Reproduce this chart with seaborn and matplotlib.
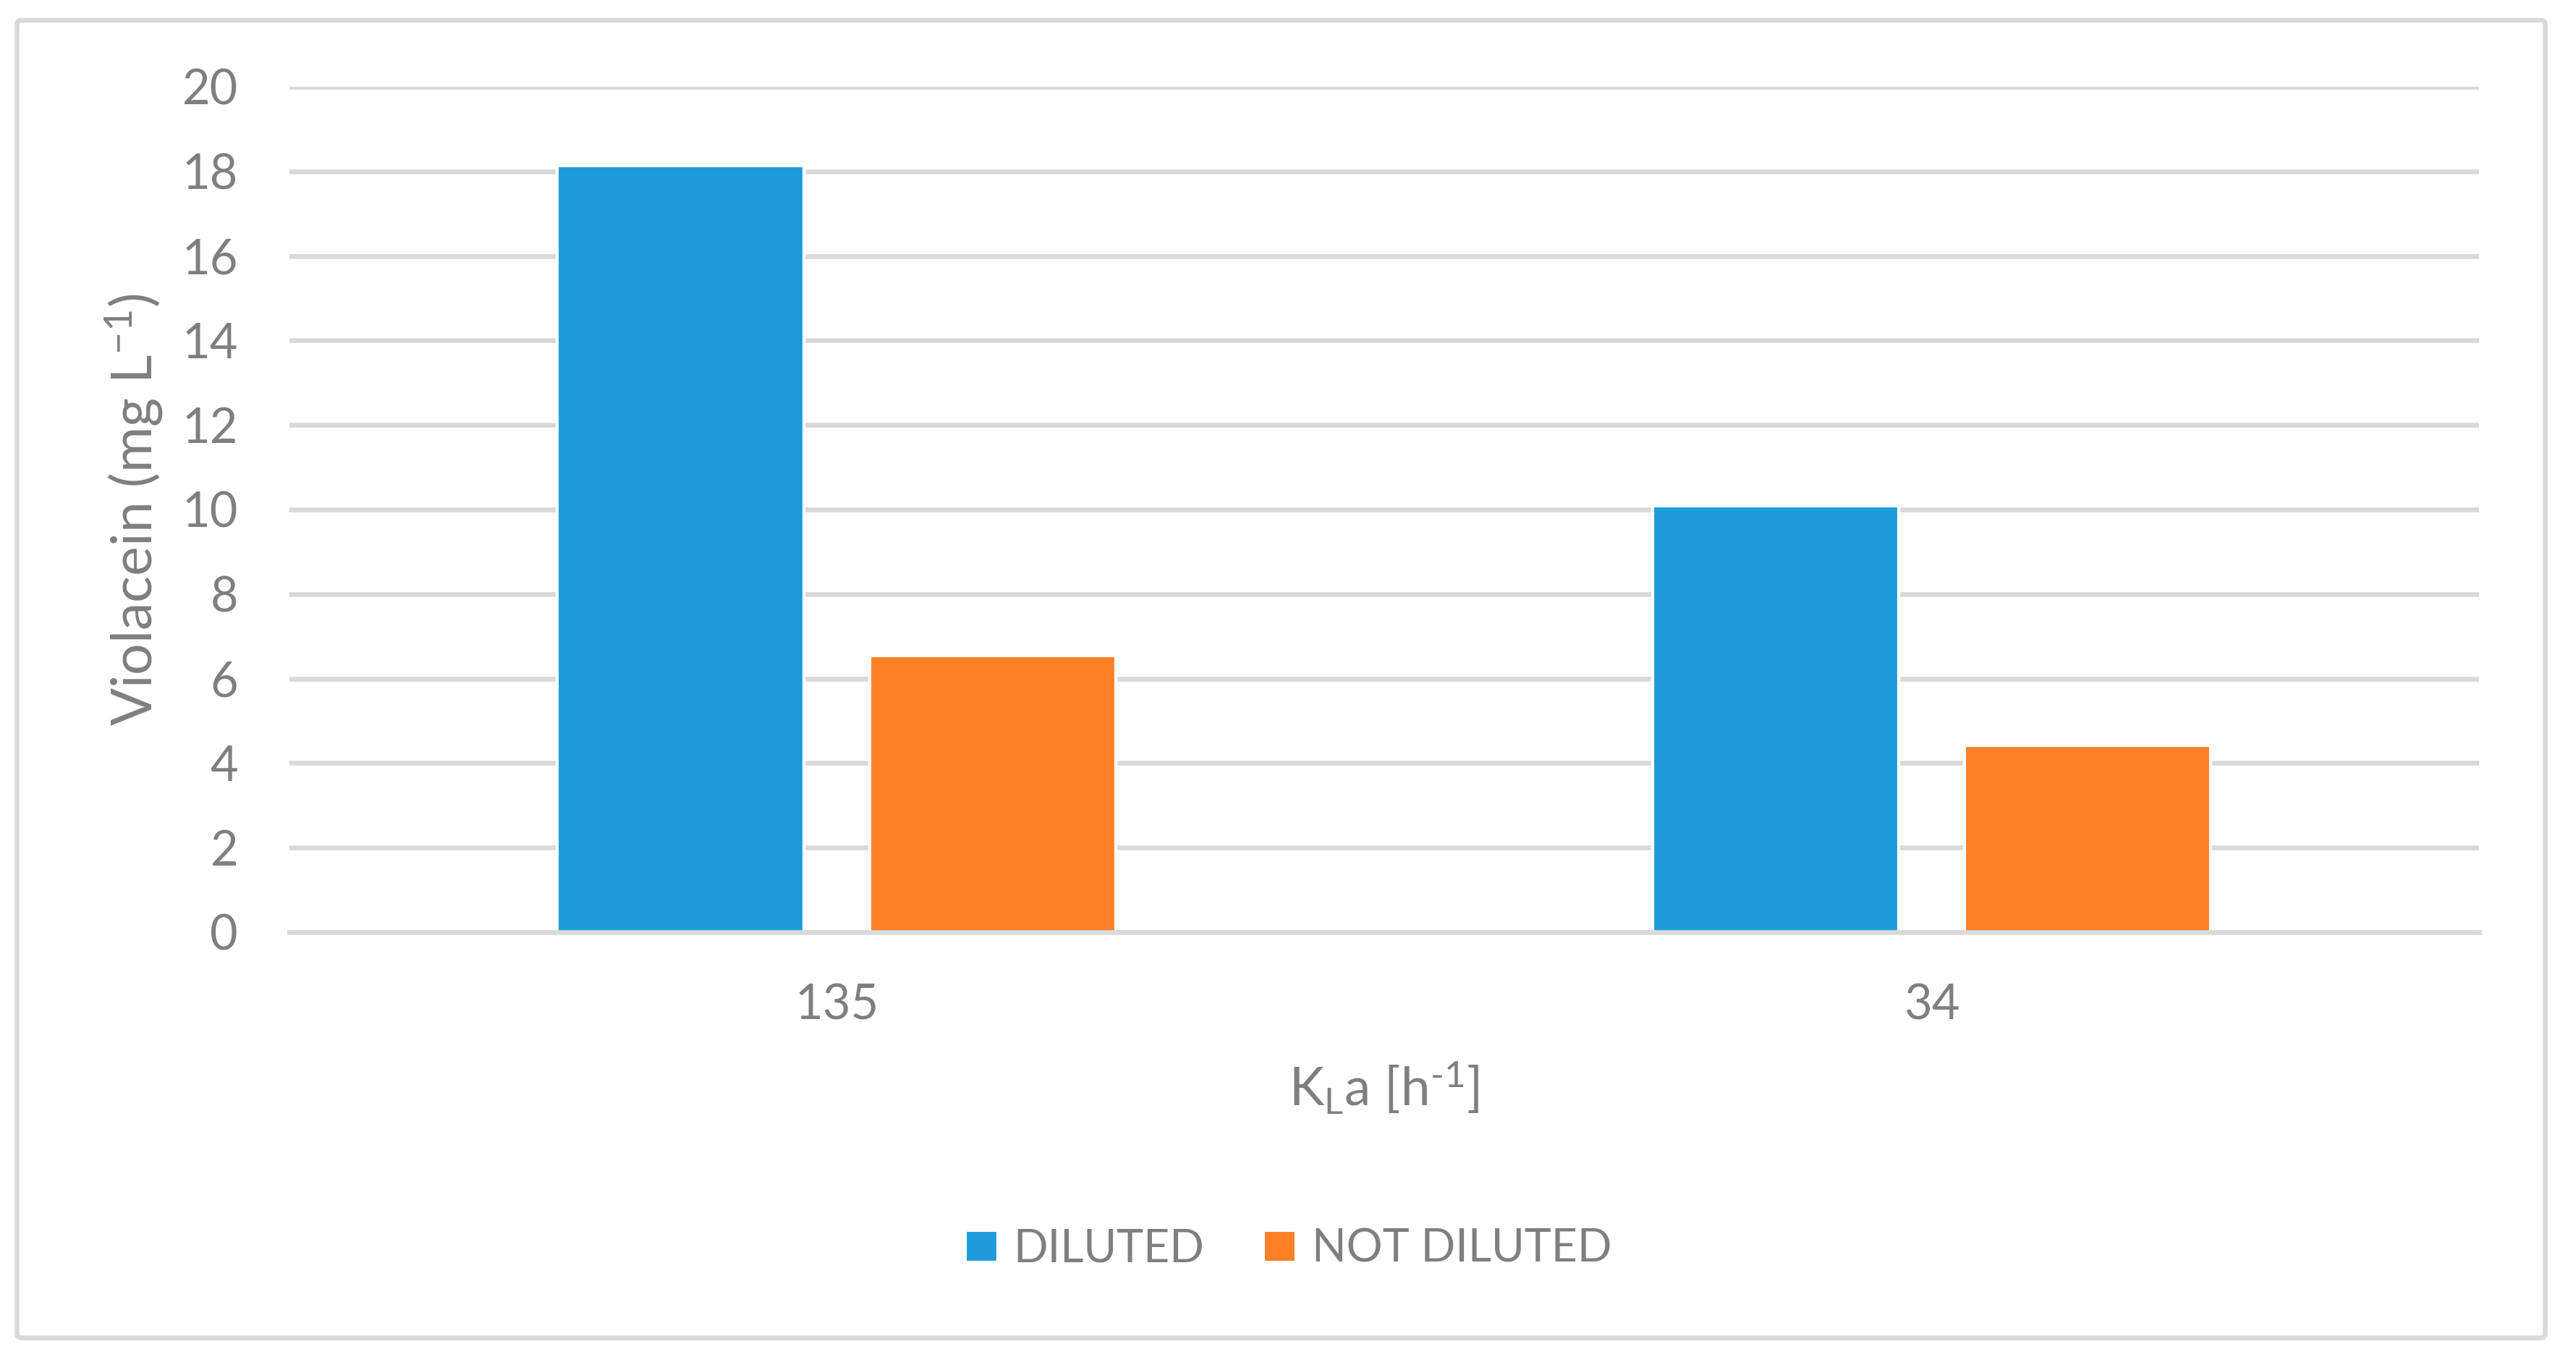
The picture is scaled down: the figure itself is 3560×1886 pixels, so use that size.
import matplotlib
matplotlib.use("Agg")
import matplotlib.pyplot as plt
import matplotlib.patches as mpatches
import pandas as pd
import seaborn as sns

# Data
kla_values = ["135", "34"]
conditions = ["DILUTED", "NOT DILUTED"]
diluted = [18.13, 10.09]
not_diluted = [6.54, 4.42]
bar_colors = ["#1D9CD9", "#FF7F27"]

df = pd.DataFrame({
    "KLa": kla_values * 2,
    "condition": [conditions[0]] * 2 + [conditions[1]] * 2,
    "violacein": diluted + not_diluted,
})

sns.set_style("white")
plt.rcParams["font.family"] = ["Lato", "DejaVu Sans"]
plt.rcParams["mathtext.fontset"] = "custom"
plt.rcParams["mathtext.rm"] = "Lato"
plt.rcParams["mathtext.it"] = "Lato:italic"
plt.rcParams["mathtext.default"] = "regular"

text_gray = "#7f7f7f"
line_gray = "#d9d9d9"

fig = plt.figure(figsize=(3561 / 300, 1886 / 300), dpi=300)
ax = fig.add_axes([0.1123, 0.3171, 0.8498, 0.6193])

sns.barplot(data=df, x="KLa", y="violacein", hue="condition",
            palette=bar_colors, width=0.57, gap=0.21, saturation=1,
            ax=ax)

ax.set_ylim(0, 20)
ax.set_xlim(-0.5, 1.5)
ax.set_yticks(range(0, 21, 2))
ax.set_axisbelow(True)
ax.yaxis.grid(True, color=line_gray, linewidth=1.6)
ax.xaxis.grid(False)
for side in ["top", "right", "left"]:
    ax.spines[side].set_visible(False)
ax.spines["bottom"].set_color(line_gray)
ax.spines["bottom"].set_linewidth(1.6)

ax.tick_params(axis="both", length=0, labelsize=16, labelcolor=text_gray)
ax.tick_params(axis="y", pad=17)
ax.tick_params(axis="x", pad=17)

ax.set_ylabel("Violacein (mg L$^{\u2212 1}$)", fontsize=18.5, color=text_gray)
ax.set_xlabel("K$_{L}$a [h$^{\u2010 1}$]", fontsize=17.5, color=text_gray)
ax.yaxis.set_label_coords(-0.071, 0.5)
ax.yaxis.label.set_verticalalignment("center")
ax.xaxis.set_label_coords(0.5, -0.184)
ax.xaxis.label.set_verticalalignment("center")

handles, labels = ax.get_legend_handles_labels()
ax.get_legend().remove()
fig.legend(handles, labels, loc="center", bbox_to_anchor=(0.5, 0.085),
           ncol=2, frameon=False, fontsize=15, labelcolor=text_gray,
           handlelength=0.72, handleheight=0.72, handletextpad=0.35,
           columnspacing=1.3)

# outer chart border (pixel coordinates)
border = mpatches.FancyBboxPatch((23.5, 37.5), 3494, 1820.5,
                                 boxstyle="round,pad=0,rounding_size=6",
                                 transform=None, fill=False,
                                 edgecolor=line_gray, linewidth=1.6)
fig.add_artist(border)

fig.savefig("out.png", dpi=300, facecolor="white")
